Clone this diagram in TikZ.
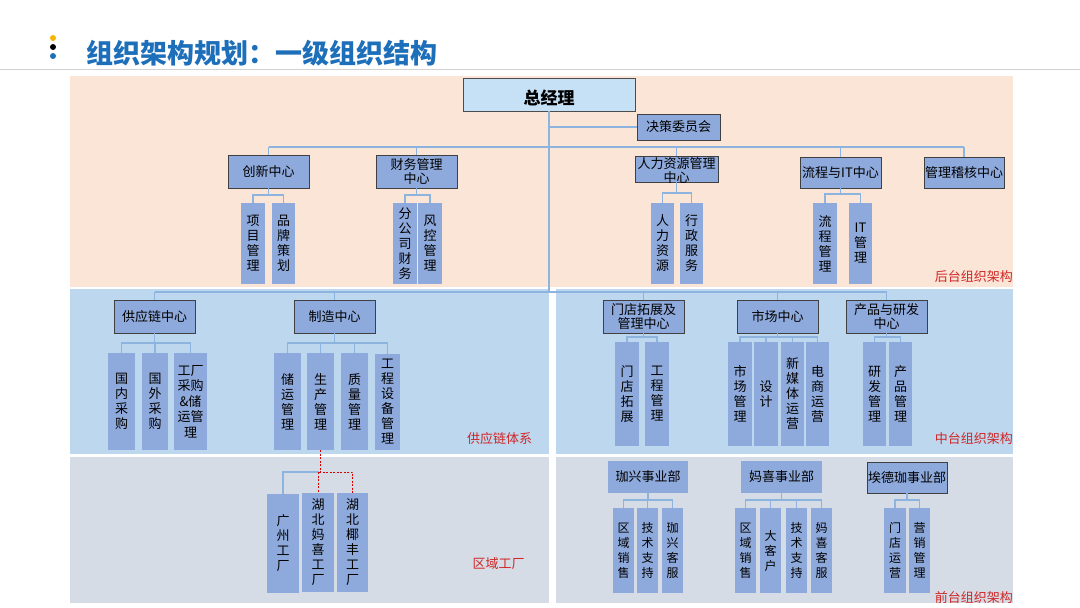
\documentclass[tikz,border=0pt]{standalone}
\usepackage{fontspec}
\setmainfont{Noto Sans CJK SC}
\usetikzlibrary{calc}
\definecolor{peach}{HTML}{FBE5D6}
\definecolor{bandblue}{HTML}{BDD7EE}
\definecolor{bandgrey}{HTML}{D6DCE5}
\definecolor{boxblue}{HTML}{8EA9DB}
\definecolor{topblue}{HTML}{C6E0F6}
\definecolor{linkblue}{HTML}{8DB4DE}
\definecolor{titleblue}{HTML}{1E6FBA}
\definecolor{labelred}{HTML}{D02626}
\definecolor{dotyellow}{HTML}{F7B500}
\newcommand\lvb[6]{\node[lvbox, minimum width=#4pt, minimum height=#5pt] (#1) at (#2,#3) {#6};}
\newcommand\flb[6]{\node[flatbox, minimum width=#4pt, minimum height=#5pt] (#1) at (#2,#3) {#6};}
\newcommand\vbx[6]{\node[vbox, minimum width=#4pt, minimum height=#5pt] (#1) at (#2,#3) {#6};}
\newcommand\kids[3]{\coordinate (#1k) at (#1.south |- 0,#2);
  \foreach \c in {#3} {\draw[conn] (#1.south) -- (#1k) -| (\c.north);}}
\begin{document}
\begin{tikzpicture}[x=1pt,y=-1pt,
 lvbox/.style={draw=black!75, line width=0.8pt, fill=boxblue, inner sep=0pt, align=center, font=\fontsize{13}{14.5}\selectfont},
 flatbox/.style={fill=boxblue, inner sep=0pt, align=center, font=\fontsize{13}{14.5}\selectfont},
 vbox/.style={fill=boxblue, inner sep=0pt, align=center, font=\fontsize{13}{15}\selectfont},
 conn/.style={draw=linkblue, line width=1.2pt},
 mainconn/.style={draw=linkblue, line width=2.2pt},
 reddash/.style={draw=red!85!black, line width=0.9pt, dash pattern=on 2pt off 1.5pt},
 zonelabel/.style={text=labelred, font=\fontsize{13}{15}\selectfont, inner sep=0pt}
]
\useasboundingbox (0,0) rectangle (1080,608);
\fill[white] (0,0) rectangle (1080,608);
% header
\fill[dotyellow] (53,38) circle (3);
\fill[black] (53,47) circle (3);
\fill[titleblue] (53,56) circle (3);
\node[anchor=west, inner sep=0pt, text=titleblue, font=\bfseries\fontsize{27}{30}\selectfont] (title) at (86,53) {组织架构规划：一级组织结构};
\draw[black!18, line width=0.8pt] (0,69) -- (1080,69);
% bands
\fill[peach] (70,76) rectangle (1013,287);
\fill[bandblue] (70,289) rectangle (549,454);
\fill[bandblue] (556,289) rectangle (1013,454);
\fill[bandgrey] (70,457) rectangle (549,603);
\fill[bandgrey] (556,457) rectangle (1013,603);
% top level
\node[draw=black!70, line width=0.8pt, fill=topblue, inner sep=0pt, minimum width=172pt, minimum height=33pt] (gm) at (549,94.5) {};
\node[inner sep=0pt, font=\bfseries\fontsize{17}{19}\selectfont] (gmt) at (549,98) {总经理};
\lvb{jc}{678.5}{127}{83}{26}{决策委员会}
\lvb{cx}{268.5}{171.5}{81}{33}{创新中心}
\lvb{cw}{416.5}{171.5}{81}{33}{财务管理\\中心}
\lvb{rl}{676.5}{169}{83}{26}{}
\node[inner sep=0pt, align=center, font=\fontsize{13}{14}\selectfont] (rlt) at (676.5,171) {人力资源管理\\中心};
\lvb{lc}{840.5}{172.5}{81}{31}{流程与IT中心}
\lvb{gl}{964}{172.5}{80}{31}{管理稽核中心}
\vbx{xm}{253}{243.5}{24}{81}{项\\目\\管\\理}
\vbx{pp}{283.5}{243.5}{23.5}{81}{品\\牌\\策\\划}
\vbx{fg}{405}{243.5}{24}{81}{分\\公\\司\\财\\务}
\vbx{fk}{430}{243.5}{24}{81}{风\\控\\管\\理}
\vbx{rz}{662.5}{243.5}{23}{81}{人\\力\\资\\源}
\vbx{xz}{691.5}{243.5}{23}{81}{行\\政\\服\\务}
\vbx{lg}{825}{243.5}{24}{81}{流\\程\\管\\理}
\vbx{it}{860.5}{243.5}{23}{81}{IT\\管\\理}
% middle band
\lvb{gy}{154.5}{316.5}{81}{33}{供应链中心}
\lvb{zz}{334.5}{316.5}{81}{33}{制造中心}
\lvb{md}{643.5}{316.5}{81}{33}{门店拓展及\\管理中心}
\lvb{sh}{777.5}{316.5}{81}{33}{市场中心}
\lvb{cp}{886.5}{316.5}{81}{33}{产品与研发\\中心}
\vbx{gn}{121.5}{401.5}{27}{97}{国\\内\\采\\购}
\vbx{gw}{155}{401.5}{26}{97}{国\\外\\采\\购}
\node[vbox, minimum width=33pt, minimum height=97pt, font=\fontsize{13}{15.5}\selectfont] (gc) at (190.5,401.5) {工厂\\采购\\\&储\\运管\\理};
\vbx{cy1}{287.5}{401.5}{27}{97}{储\\运\\管\\理}
\vbx{sc}{320.5}{401.5}{27}{97}{生\\产\\管\\理}
\vbx{zl}{354.5}{401.5}{27}{97}{质\\量\\管\\理}
\vbx{gs}{387.5}{402}{25}{96}{工\\程\\设\\备\\管\\理}
\vbx{mdt}{627}{394}{24}{104}{门\\店\\拓\\展}
\vbx{gcg}{657}{394}{24}{104}{工\\程\\管\\理}
\vbx{scg}{740}{394}{24}{104}{市\\场\\管\\理}
\vbx{sj}{766}{394}{24}{104}{设\\计}
\vbx{xmt}{792.5}{394}{23}{104}{新\\媒\\体\\运\\营}
\vbx{ds}{817.5}{394}{23}{104}{电\\商\\运\\营}
\vbx{yf}{874.5}{394}{23}{104}{研\\发\\管\\理}
\vbx{cpg}{900.5}{394}{23}{104}{产\\品\\管\\理}
% bottom band
\vbx{gz}{283}{543.5}{32}{99}{广\\州\\工\\厂}
\vbx{hm}{318}{542.5}{32}{99}{湖\\北\\妈\\喜\\工\\厂}
\vbx{hy}{352.5}{542.5}{31}{99}{湖\\北\\椰\\丰\\工\\厂}
\flb{jx}{648}{477}{80}{32}{珈兴事业部}
\flb{mx}{781.5}{477}{81}{32}{妈喜事业部}
\lvb{ad}{907}{477.5}{80}{31}{埃德珈事业部}
\node[vbox, minimum width=21pt, minimum height=85pt, font=\fontsize{12}{15}\selectfont] (qa) at (623.5,550.5) {区\\域\\销\\售};
\node[vbox, minimum width=21pt, minimum height=85pt, font=\fontsize{12}{15}\selectfont] (ja) at (647.5,550.5) {技\\术\\支\\持};
\node[vbox, minimum width=21pt, minimum height=85pt, font=\fontsize{12}{15}\selectfont] (jk) at (672.5,550.5) {珈\\兴\\客\\服};
\node[vbox, minimum width=21pt, minimum height=85pt, font=\fontsize{12}{15}\selectfont] (qb) at (745.5,550.5) {区\\域\\销\\售};
\node[vbox, minimum width=21pt, minimum height=85pt, font=\fontsize{12}{15}\selectfont] (dk) at (770.5,550.5) {大\\客\\户};
\node[vbox, minimum width=21pt, minimum height=85pt, font=\fontsize{12}{15}\selectfont] (jb) at (796.5,550.5) {技\\术\\支\\持};
\node[vbox, minimum width=21pt, minimum height=85pt, font=\fontsize{12}{15}\selectfont] (mk) at (821.5,550.5) {妈\\喜\\客\\服};
\node[vbox, minimum width=22pt, minimum height=85pt, font=\fontsize{12}{15}\selectfont] (my) at (895,550.5) {门\\店\\运\\营};
\node[vbox, minimum width=21pt, minimum height=85pt, font=\fontsize{12}{15}\selectfont] (yx) at (919.5,550.5) {营\\销\\管\\理};
% zone labels
\node[zonelabel, anchor=east] (lb1) at (1013,277) {后台组织架构};
\node[zonelabel] (lb2) at (499.5,439) {供应链体系};
\node[zonelabel, anchor=east] (lb3) at (1013,439) {中台组织架构};
\node[zonelabel] (lb4) at (498.5,564) {区域工厂};
\node[zonelabel, anchor=east] (lb5) at (1013,598) {前台组织架构};
% main connectors
\coordinate (tj) at (549,147);
\coordinate (mj) at (549,292);
\draw[mainconn] (gm.south) -- (mj);
\draw[conn] (gm.south |- jc.west) -- (jc.west);
\draw[mainconn] (cx.north |- tj) -- (gl.north |- tj);
\foreach \n in {cx,cw,rl,lc,gl} {\draw[conn] (\n.north |- tj) -- (\n.north);}
\draw[mainconn] (gy.north |- mj) -- (cp.north |- mj);
\foreach \n in {gy,zz,md,sh,cp} {\draw[conn] (\n.north |- mj) -- (\n.north);}
% child connectors
\kids{cx}{195}{xm,pp}
\kids{cw}{195}{fg,fk}
\kids{rl}{193}{rz,xz}
\kids{lc}{194}{lg,it}
\kids{gy}{343}{gn,gw,gc}
\kids{zz}{343}{cy1,sc,zl,gs}
\kids{md}{337}{mdt,gcg}
\kids{sh}{337}{scg,sj,xmt,ds}
\kids{cp}{337}{yf,cpg}
\kids{jx}{500}{qa,ja,jk}
\kids{mx}{500}{qb,dk,jb,mk}
\kids{ad}{500}{my,yx}
% factories
\coordinate (fj) at (319,472);
\draw[conn] (gz.north) |- (fj);
\draw[reddash] (sc.south) -- (sc.south |- fj) -| (hm.north);
\draw[reddash] (fj) -| (hy.north);
\end{tikzpicture}
\end{document}
